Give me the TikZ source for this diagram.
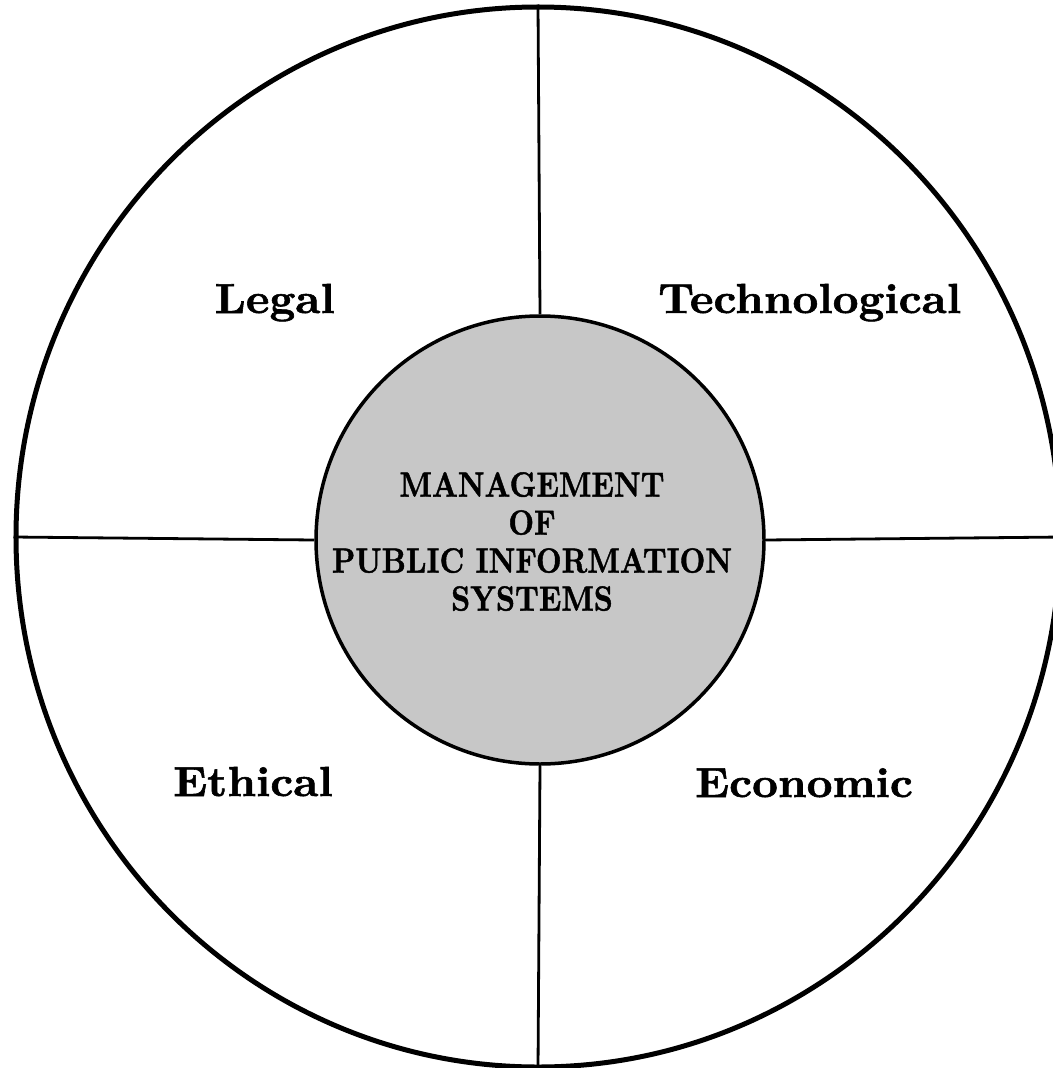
\documentclass[tikz,border=0pt]{standalone}
\usepackage{fontspec}
\newfontfamily\heavyfont{lmroman10-bold.otf}[FakeBold=1.3]
\usetikzlibrary{shapes.geometric}
\begin{document}
\begin{tikzpicture}[x=1pt,y=-1pt,
  ring/.style={draw=black, line width=5pt, ellipse, minimum width=1044pt, minimum height=1060pt, inner sep=0pt},
  hub/.style={draw=black, line width=3.5pt, circle, fill=black!22, minimum size=448pt, inner sep=0pt},
  divider/.style={line width=2.8pt},
  aspect/.style={font=\fontsize{42}{46}\selectfont\heavyfont, inner sep=0pt},
  title/.style={font=\fontsize{35}{38}\selectfont\heavyfont, inner sep=0pt}]
\useasboundingbox (0,0) rectangle (1052,1068);
\node[ring] (outer) at (538,537) {};
\node[hub] (inner) at (540,540) {};
\draw[divider] (inner.north) -- (outer.north);
\draw[divider] (inner.south) -- (outer.south);
\draw[divider] (inner.west) -- (outer.west);
\draw[divider] (inner.east) -- (outer.east);
\node[title] (mpis) at (532,546) {\scalebox{0.85}[1]{\begin{tabular}{@{}c@{}}MANAGEMENT\\OF\\PUBLIC INFORMATION\\SYSTEMS\end{tabular}}};
\node[aspect, anchor=base east] (legal) at (335,313) {\scalebox{1.07}[1]{Legal}};
\node[aspect, anchor=base west] (tech) at (658,313) {\scalebox{1.07}[1]{Technological}};
\node[aspect, anchor=base east] (ethical) at (333,796) {\scalebox{1.07}[1]{Ethical}};
\node[aspect, anchor=base west] (econ) at (695,797) {\scalebox{1.07}[1]{Economic}};
\end{tikzpicture}
\end{document}
